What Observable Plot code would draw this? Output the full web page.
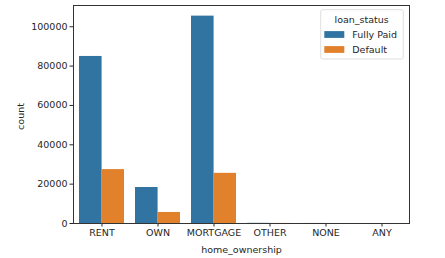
<!DOCTYPE html>
<html><head><meta charset="utf-8">
<script src="https://cdn.jsdelivr.net/npm/d3@7"></script>
<script src="https://cdn.jsdelivr.net/npm/@observablehq/plot@0.6"></script>
<style>body{margin:0;background:#fff}#chart{width:445px;height:258px}</style>
</head><body><div id="chart"></div>
<script>
const categories = ["RENT", "OWN", "MORTGAGE", "OTHER", "NONE", "ANY"];
const statuses = ["Fully Paid", "Default"];
const fullyPaid = [84900, 18300, 105400, 90, 25, 3];
const defaulted = [27400, 5600, 25500, 25, 6, 0];
const yTicks = [0, 20000, 40000, 60000, 80000, 100000];
const colors = ["#3274a1", "#e1812c"];
const xLabel = "home_ownership", yLabel = "count", legendTitle = "loan_status";

const data = categories.flatMap((c, i) => [
  {home_ownership: c, loan_status: statuses[0], count: fullyPaid[i]},
  {home_ownership: c, loan_status: statuses[1], count: defaulted[i]}
]);

const W = 445, H = 258, ml = 73, mr = 36, mt = 5, mb = 35;
const step = (W - ml - mr) / categories.length;
const half = step * 0.8 / 2;
const font = "DejaVu Sans, sans-serif";

const plot = Plot.plot({
  width: W, height: H,
  marginLeft: ml, marginRight: mr, marginTop: mt, marginBottom: mb,
  style: {fontFamily: font, fontSize: "9.5px", color: "#262626", background: "#fff"},
  x: {domain: categories, paddingInner: 0.2, paddingOuter: 0.1, axis: null},
  y: {domain: [0, 110800], axis: null},
  color: {domain: statuses, range: colors},
  marks: [
    Plot.barY(data.filter(d => d.loan_status === statuses[0]),
      {x: "home_ownership", y: "count", fill: "loan_status", insetRight: half}),
    Plot.barY(data.filter(d => d.loan_status === statuses[1]),
      {x: "home_ownership", y: "count", fill: "loan_status", insetLeft: half}),
    Plot.axisX({tickSize: 3.5, tickPadding: 2.5, label: null, stroke: "#262626", fontSize: 9.5}),
    Plot.axisY({ticks: yTicks, tickFormat: d3.format("d"), tickSize: 3.5, tickPadding: 2.5, label: null, stroke: "#262626", fontSize: 9.5}),
    Plot.frame({stroke: "#333", strokeWidth: 1}),
    Plot.text([xLabel], {frameAnchor: "bottom", dy: 26.5, text: d => d, fontSize: 9.5,
      textAnchor: "middle", lineAnchor: "middle"}),
    Plot.text([yLabel], {frameAnchor: "left", dx: -53, dy: 2, rotate: -90, text: d => d, fontSize: 9.5,
      textAnchor: "middle", lineAnchor: "middle"})
  ]
});
document.getElementById("chart").appendChild(plot);

// legend (upper right, inside axes)
const svg = d3.select(plot);
const g = svg.append("g").attr("font-family", font).attr("font-size", "9.5px")
  .attr("fill", "#262626").attr("text-anchor", "start");
g.append("rect").attr("x", 320.7).attr("y", 9.7).attr("width", 82.6).attr("height", 49.3)
  .attr("rx", 2).attr("fill", "#fff").attr("fill-opacity", 0.8).attr("stroke", "#d6d6d6").attr("stroke-width", 0.8);
g.append("text").attr("x", 361.7).attr("y", 23.3).attr("text-anchor", "middle").text(legendTitle);
statuses.forEach((s, i) => {
  const cy = 34.4 + i * 15;
  g.append("rect").attr("x", 324.3).attr("y", cy - 3.3).attr("width", 20).attr("height", 6.8).attr("fill", colors[i]);
  g.append("text").attr("x", 352.3).attr("y", cy + 3.4).attr("text-anchor", "start").text(s);
});
</script>
</body></html>
